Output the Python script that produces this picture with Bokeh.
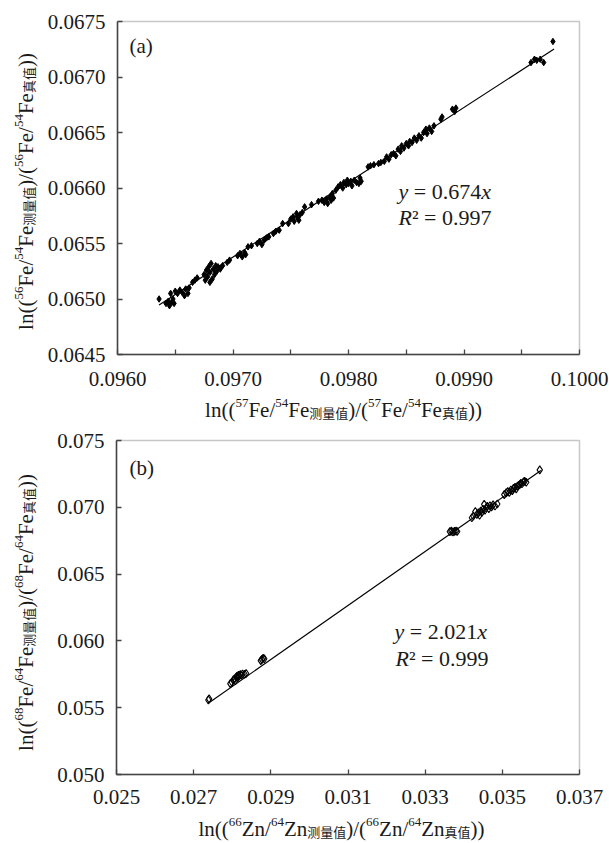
import math
from bokeh.plotting import figure
from bokeh.models import Label, FixedTicker, PrintfTickFormatter, Range1d, BoxAnnotation
from bokeh.layouts import column
from bokeh.embed import file_html
from bokeh.resources import INLINE

# ---------------- data ----------------
a_x = [0.09636, 0.09642, 0.09644, 0.09645, 0.09647, 0.09648, 0.09646, 0.09649, 0.09650, 0.09652,
       0.09654, 0.09656, 0.09658, 0.09659, 0.09661, 0.09662, 0.09665, 0.09667, 0.09669,
       0.09675, 0.09676, 0.09677, 0.09678, 0.09679, 0.09680, 0.09680, 0.09681, 0.09682, 0.09683,
       0.09684, 0.09685, 0.09686, 0.09687, 0.09689, 0.09691, 0.09695, 0.09697,
       0.09704, 0.09706, 0.09708, 0.09710, 0.09711, 0.09713, 0.09716, 0.09721, 0.09723, 0.09725,
       0.09727, 0.09729, 0.09731, 0.09735, 0.09737, 0.09740, 0.09743, 0.09748, 0.09750, 0.09752,
       0.09753, 0.09755, 0.09756, 0.09757, 0.09758, 0.09760, 0.09762, 0.09768, 0.09774, 0.09777,
       0.09779, 0.09781, 0.09782, 0.09784, 0.09785, 0.09786, 0.09787, 0.09789,
       0.09791, 0.09793, 0.09795, 0.09796, 0.09798, 0.09799, 0.09800, 0.09802, 0.09803, 0.09805,
       0.09807, 0.09809, 0.09810, 0.09811,
       0.09817, 0.09819, 0.09822, 0.09826, 0.09828,
       0.09831, 0.09833, 0.09835, 0.09837, 0.09839, 0.09841, 0.09843, 0.09845, 0.09846, 0.09848,
       0.09850, 0.09852, 0.09853, 0.09855, 0.09857, 0.09859, 0.09861, 0.09863, 0.09865, 0.09867,
       0.09868, 0.09870, 0.09872, 0.09874, 0.09880, 0.09881, 0.09890, 0.09892, 0.09893,
       0.09958, 0.09961, 0.09963, 0.09966, 0.09969, 0.09977]
a_y = [0.06500, 0.06496, 0.06498, 0.06494, 0.06497, 0.06500, 0.06505, 0.06496, 0.06507, 0.06505,
       0.06508, 0.06506, 0.06503, 0.06509, 0.06505, 0.06510, 0.06515, 0.06517, 0.06519,
       0.06522, 0.06517, 0.06526, 0.06520, 0.06529, 0.06515, 0.06524, 0.06532, 0.06518, 0.06527,
       0.06522, 0.06530, 0.06525, 0.06529, 0.06527, 0.06530, 0.06533, 0.06535,
       0.06539, 0.06541, 0.06538, 0.06542, 0.06540, 0.06547, 0.06548, 0.06550, 0.06552, 0.06549,
       0.06553, 0.06555, 0.06556, 0.06559, 0.06561, 0.06562, 0.06568, 0.06568, 0.06572, 0.06574,
       0.06570, 0.06577, 0.06573, 0.06571, 0.06576, 0.06578, 0.06583, 0.06585, 0.06588, 0.06589,
       0.06587, 0.06590, 0.06586, 0.06592, 0.06589, 0.06595, 0.06591, 0.06598,
       0.06601, 0.06603, 0.06600, 0.06605, 0.06603, 0.06607, 0.06604, 0.06606, 0.06602, 0.06607,
       0.06605, 0.06604, 0.06609, 0.06606,
       0.06619, 0.06620, 0.06621, 0.06622, 0.06623,
       0.06624, 0.06628, 0.06626, 0.06630, 0.06631, 0.06629, 0.06635, 0.06633, 0.06638, 0.06636,
       0.06640, 0.06638, 0.06642, 0.06641, 0.06645, 0.06643, 0.06647, 0.06645, 0.06650, 0.06653,
       0.06649, 0.06654, 0.06651, 0.06656, 0.06662, 0.06664, 0.06671, 0.06669, 0.06672,
       0.06713, 0.06716, 0.06715, 0.06716, 0.06713, 0.06732]
a_slope = 0.674
a_fit_x = [0.09636, 0.09978]
a_eq = ["y", "= 0.674", "x"]
a_r2 = ["R", "² = 0.997"]
a_xlim = (0.0960, 0.1000)
a_ylim = (0.0645, 0.0675)
a_xticks = [0.0960, 0.0970, 0.0980, 0.0990, 0.1000]
a_xminor = [0.0965, 0.0975, 0.0985, 0.0995]
a_yticks = [0.0645, 0.0650, 0.0655, 0.0660, 0.0665, 0.0670, 0.0675]

b_x = [0.02738, 0.02740, 0.02795, 0.02799, 0.02803, 0.02806, 0.02808, 0.02810, 0.02812, 0.02814,
       0.02816, 0.02818, 0.02821, 0.02824, 0.02827, 0.02832, 0.02836,
       0.02874, 0.02877, 0.02880, 0.02883,
       0.03364, 0.03368, 0.03372, 0.03376, 0.03380, 0.03383,
       0.03421, 0.03425, 0.03430, 0.03434, 0.03438, 0.03441, 0.03444, 0.03447, 0.03450, 0.03453,
       0.03455, 0.03458, 0.03461, 0.03465, 0.03468, 0.03472, 0.03476, 0.03481, 0.03487,
       0.03505, 0.03510, 0.03514, 0.03518, 0.03522, 0.03526, 0.03529, 0.03533, 0.03536, 0.03539,
       0.03542, 0.03545, 0.03548, 0.03551, 0.03555, 0.03558, 0.03562, 0.03597]
b_y = [0.05558, 0.05566, 0.05680, 0.05690, 0.05708, 0.05716, 0.05702, 0.05728, 0.05735, 0.05722,
       0.05742, 0.05738, 0.05748, 0.05744, 0.05752, 0.05750, 0.05756,
       0.05852, 0.05862, 0.05870, 0.05866,
       0.06818, 0.06822, 0.06815, 0.06820, 0.06823, 0.06819,
       0.06922, 0.06935, 0.06968, 0.06946, 0.06958, 0.06940, 0.06972, 0.06962, 0.06985, 0.07022,
       0.06978, 0.06995, 0.07008, 0.06990, 0.07012, 0.07002, 0.07018, 0.07010, 0.07025,
       0.07095, 0.07108, 0.07118, 0.07112, 0.07130, 0.07125, 0.07142, 0.07150, 0.07138, 0.07158,
       0.07165, 0.07170, 0.07180, 0.07176, 0.07190, 0.07195, 0.07188, 0.07280]
b_slope = 2.021
b_fit_x = [0.02737, 0.03600]
b_eq = ["y", "= 2.021", "x"]
b_r2 = ["R", "² = 0.999"]
b_xlim = (0.025, 0.037)
b_ylim = (0.050, 0.075)
b_xticks = [0.025, 0.027, 0.029, 0.031, 0.033, 0.035, 0.037]
b_yticks = [0.050, 0.055, 0.060, 0.065, 0.070, 0.075]

a_xtitle = [("ln((", "n"), ("57", "sup"), ("Fe/", "n"), ("54", "sup"), ("Fe", "n"), ("测量值", "sub"),
            (")/(", "n"), ("57", "sup"), ("Fe/", "n"), ("54", "sup"), ("Fe", "n"), ("真值", "sub"), ("))", "n")]
a_ytitle = [("ln((", "n"), ("56", "sup"), ("Fe/", "n"), ("54", "sup"), ("Fe", "n"), ("测量值", "sub"),
            (")/(", "n"), ("56", "sup"), ("Fe/", "n"), ("54", "sup"), ("Fe", "n"), ("真值", "sub"), ("))", "n")]
b_xtitle = [("ln((", "n"), ("66", "sup"), ("Zn/", "n"), ("64", "sup"), ("Zn", "n"), ("测量值", "sub"),
            (")/(", "n"), ("66", "sup"), ("Zn/", "n"), ("64", "sup"), ("Zn", "n"), ("真值", "sub"), ("))", "n")]
b_ytitle = [("ln((", "n"), ("68", "sup"), ("Fe/", "n"), ("64", "sup"), ("Fe", "n"), ("测量值", "sub"),
            (")/(", "n"), ("68", "sup"), ("Fe/", "n"), ("64", "sup"), ("Fe", "n"), ("真值", "sub"), ("))", "n")]

# ---------------- styling / layout constants (pixels) ----------------
SERIF = "Liberation Serif, serif"
CJK = "Noto Sans CJK SC"
MAIN = 21
SMALL = 13
TXT = "#1a1a1a"
FRAME = "#444444"
W = {'l': 0.278, 'n': 0.5, '(': 0.333, ')': 0.333, '/': 0.278, 'F': 0.556, 'e': 0.444,
     'Z': 0.611, ' ': 0.25, '=': 0.564, '.': 0.25, '²': 0.3}
for d in "0123456789":
    W[d] = 0.5
ITW = {'y': 0.444, 'x': 0.444, 'R': 0.611}
FIG_W = 609
DY = 5  # baseline correction of the label renderer


def is_cjk(s):
    return any(ord(ch) > 0x2E80 for ch in s)


def tw(s, size):
    if is_cjk(s):
        return len(s) * size
    return sum(W[c] for c in s) * size


class Panel:
    def __init__(self, height, box, xlim, ylim):
        # box = (left, top, right, bottom) in pixels inside this figure's canvas
        self.h = height
        l, t, r, b = box
        xs = (xlim[1] - xlim[0]) / (r - l)
        ys = (ylim[1] - ylim[0]) / (b - t)
        xr = (xlim[0] - l * xs, xlim[1] + (FIG_W - r) * xs)
        yr = (ylim[0] - (height - b) * ys, ylim[1] + t * ys)
        p = figure(width=FIG_W, height=height, x_range=Range1d(*xr), y_range=Range1d(*yr),
                   output_backend="svg", toolbar_location=None,
                   min_border_left=0, min_border_right=0, min_border_top=0, min_border_bottom=0)
        p.background_fill_color = "white"
        p.border_fill_color = "white"
        p.outline_line_color = None
        p.xgrid.visible = False
        p.ygrid.visible = False
        p.add_layout(BoxAnnotation(left=xlim[0], right=xlim[1], bottom=ylim[0], top=ylim[1],
                                   fill_alpha=0.0, line_color=FRAME, line_width=1.5, level="underlay"))
        p.xaxis[0].fixed_location = ylim[0]
        p.xaxis[0].bounds = xlim
        p.yaxis[0].fixed_location = xlim[0]
        p.yaxis[0].bounds = ylim
        for ax in (p.xaxis[0], p.yaxis[0]):
            ax.axis_line_color = FRAME
            ax.axis_line_width = 1.5
            ax.major_tick_line_color = FRAME
            ax.minor_tick_line_color = FRAME
            ax.major_tick_line_width = 1.3
            ax.minor_tick_line_width = 1.3
            ax.major_tick_in = 5
            ax.major_tick_out = 0
            ax.minor_tick_in = 5
            ax.minor_tick_out = 0
            ax.major_label_text_font = SERIF
            ax.major_label_text_font_size = f"{MAIN}px"
            ax.major_label_text_color = TXT
        self.p = p

    def label(self, text, x, y, size=MAIN, font=SERIF, style="normal", angle=0.0):
        # x, y: pixel position of the baseline start in this canvas (y measured from the top)
        if angle:
            x = x - DY
        else:
            y = y - DY
        self.p.add_layout(Label(x=x, y=self.h - y, x_units="screen", y_units="screen", text=text,
                                text_font=font, text_font_size=f"{size}px", text_font_style=style,
                                angle=angle, text_align="left", text_baseline="alphabetic",
                                text_color=TXT))

    def title(self, pieces, c, base, vertical):
        specs = []
        total = 0.0
        for t, k in pieces:
            size = MAIN if k == "n" else SMALL
            font = CJK if is_cjk(t) else SERIF
            specs.append((t, k, size, font, total))
            total += tw(t, size)
        start = c - total / 2
        for t, k, size, font, off in specs:
            shift = 7 if k == "sup" else (-3 if k == "sub" else 0)
            if vertical:
                self.label(t, base - shift, c + total / 2 - off, size=size, font=font,
                           angle=math.pi / 2)
            else:
                self.label(t, start + off, base - shift, size=size, font=font)

    def equation(self, parts, x, y, size=22):
        off = 0.0
        for t in parts:
            italic = t in ITW
            self.label(t, x + off, y, size=size, style="italic" if italic else "normal")
            if italic:
                off += ITW[t] * size
                if t == "y":
                    off += W[' '] * size
            else:
                off += sum(W[c] for c in t) * size


# ---------------- panel (a) ----------------
A = Panel(428, (117, 21, 579, 354), a_xlim, a_ylim)
pa = A.p
pa.xaxis[0].ticker = FixedTicker(ticks=a_xticks, minor_ticks=a_xminor)
pa.xaxis[0].formatter = PrintfTickFormatter(format="%.4f")
pa.xaxis[0].major_label_standoff = 17
pa.yaxis[0].ticker = FixedTicker(ticks=a_yticks, minor_ticks=[])
pa.yaxis[0].formatter = PrintfTickFormatter(format="%.4f")
pa.yaxis[0].major_label_standoff = 12
pa.line(a_fit_x, [a_slope * v for v in a_fit_x], line_color="black", line_width=1.2)
pa.scatter(a_x, a_y, marker="diamond", size=6.5, fill_color="black", line_color="black")
A.label("(a)", 129, 50)
A.equation(a_eq, 398, 196)
A.equation(a_r2, 398, 222)
A.title(a_xtitle, 343, 414, False)
A.title(a_ytitle, 191, 30, True)

# ---------------- panel (b) ----------------
B = Panel(415, (116, 12, 579, 346), b_xlim, b_ylim)
pb = B.p
pb.xaxis[0].ticker = FixedTicker(ticks=b_xticks, minor_ticks=[])
pb.xaxis[0].formatter = PrintfTickFormatter(format="%.3f")
pb.xaxis[0].major_label_standoff = 15
pb.yaxis[0].ticker = FixedTicker(ticks=b_yticks, minor_ticks=[])
pb.yaxis[0].formatter = PrintfTickFormatter(format="%.3f")
pb.yaxis[0].major_label_standoff = 12
pb.line(b_fit_x, [b_slope * v for v in b_fit_x], line_color="black", line_width=1.2)
pb.scatter(b_x, b_y, marker="diamond", size=8, fill_color="white", fill_alpha=0.0,
           line_color="black", line_width=1.1)
B.label("(b)", 129, 44)
B.equation(b_eq, 394, 208)
B.equation(b_r2, 395, 235)
B.title(b_xtitle, 341, 405, False)
B.title(b_ytitle, 184, 30, True)

layout = column(pa, pb, spacing=0)
open("out.html", "w").write(file_html(layout, INLINE))
